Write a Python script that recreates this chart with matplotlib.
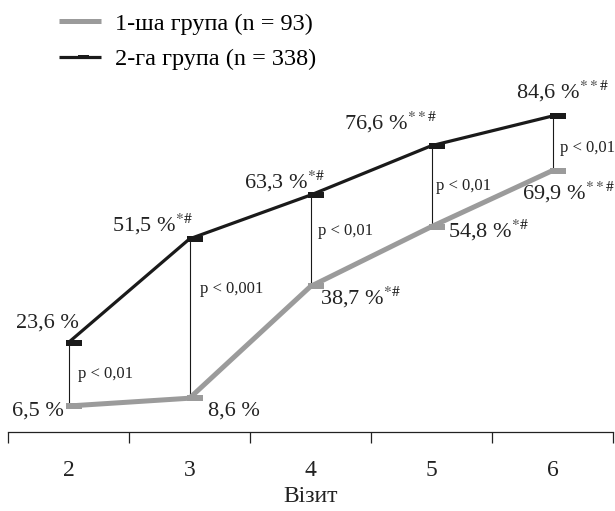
import matplotlib
matplotlib.use('Agg')
import matplotlib.pyplot as plt
from matplotlib.path import Path

plt.rcParams['font.family'] = ['Liberation Serif', 'DejaVu Serif']
plt.rcParams['mathtext.fontset'] = 'stix'

# дані
visits = ['2', '3', '4', '5', '6']
group1 = [6.5, 8.6, 38.7, 54.8, 69.9]
group2 = [23.6, 51.5, 63.3, 76.6, 84.6]
labels1 = ['6,5 %', '8,6 %', '38,7 %$^{*\\#}$', '54,8 %$^{*\\#}$', '69,9 %$^{**\\#}$']
labels2 = ['23,6 %', '51,5 %$^{*\\#}$', '63,3 %$^{*\\#}$', '76,6 %$^{**\\#}$', '84,6 %$^{**\\#}$']
pvals = ['p < 0,01', 'p < 0,001', 'p < 0,01', 'p < 0,01', 'p < 0,01']
legend_names = ['1-ша група (n = 93)', '2-га група (n = 338)']

gray = '#9b9b9b'
black = '#1a1a1a'

# маркер - прямокутник, зсунутий праворуч від точки
rect = Path([(-0.25, -0.22), (1, -0.22), (1, 0.22), (-0.25, 0.22), (-0.25, -0.22)],
            [Path.MOVETO, Path.LINETO, Path.LINETO, Path.LINETO, Path.CLOSEPOLY])

fig = plt.figure(figsize=(6.15, 5.11), dpi=100)
ax = fig.add_axes([8 / 615, (511 - 432) / 511, 605 / 615, (432 - 58.8) / 511])
x = list(range(len(visits)))

# вертикальні з'єднання
for i in x:
    ax.plot([i, i], [group1[i], group2[i]], color=black, lw=0.8, zorder=1)

l1, = ax.plot(x, group1, color=gray, lw=3.6, marker=rect, markersize=19,
              markeredgewidth=0, markerfacecolor=gray, solid_capstyle='butt', zorder=2)
l2, = ax.plot(x, group2, color=black, lw=2.3, marker=rect, markersize=19,
              markeredgewidth=0, markerfacecolor=black, solid_capstyle='butt', zorder=3)

fs = 16
# підписи значень (зсув у пікселях від точки: лівий край, базова лінія)
off1 = [(-57, -10), (18, -17), (9, -18), (17, -11), (-31, -29)]
off2 = [(-53, 15), (-78, 8), (-66, 7), (-87, 16), (-37, 18)]
for i in x:
    ax.annotate(labels1[i], (i, group1[i]), xytext=off1[i], textcoords='offset pixels',
                ha='left', va='baseline', fontsize=fs, color='#222222')
    ax.annotate(labels2[i], (i, group2[i]), xytext=off2[i], textcoords='offset pixels',
                ha='left', va='baseline', fontsize=fs, color='#222222')

poff = [(9, 0), (11, 30), (8, 10), (5, 0), (8, -5)]
for i in x:
    mid = (group1[i] + group2[i]) / 2
    ax.annotate(pvals[i], (i, mid), xytext=poff[i], textcoords='offset pixels',
                ha='left', va='center', fontsize=12, color='#222222')

ax.set_xlim(-0.5, 4.5)
ax.set_ylim(-0.5, 100)
ax.set_xticks(x)
ax.set_xticklabels(visits, fontsize=fs + 1)
ax.set_xticks([i - 0.5 for i in range(len(visits) + 1)], minor=True)
ax.tick_params(axis='x', which='major', length=0, pad=20, colors='#222222')
ax.tick_params(axis='x', which='minor', length=8, width=0.9, direction='out', color='#222222')
ax.set_yticks([])
for s in ['top', 'right', 'left']:
    ax.spines[s].set_visible(False)
ax.spines['bottom'].set_linewidth(0.9)
ax.spines['bottom'].set_color('#222222')
ax.set_xlabel('Візит', fontsize=fs + 1, labelpad=4, color='#222222')

fig.legend([l1, l2], legend_names, loc='upper left', bbox_to_anchor=(37 / 615, 1 + 9 / 511),
           frameon=False, fontsize=17.5, handlelength=1.75, handletextpad=0.55,
           labelspacing=0.55, numpoints=1, markerscale=0.7)

fig.savefig('out.png', dpi=100)
